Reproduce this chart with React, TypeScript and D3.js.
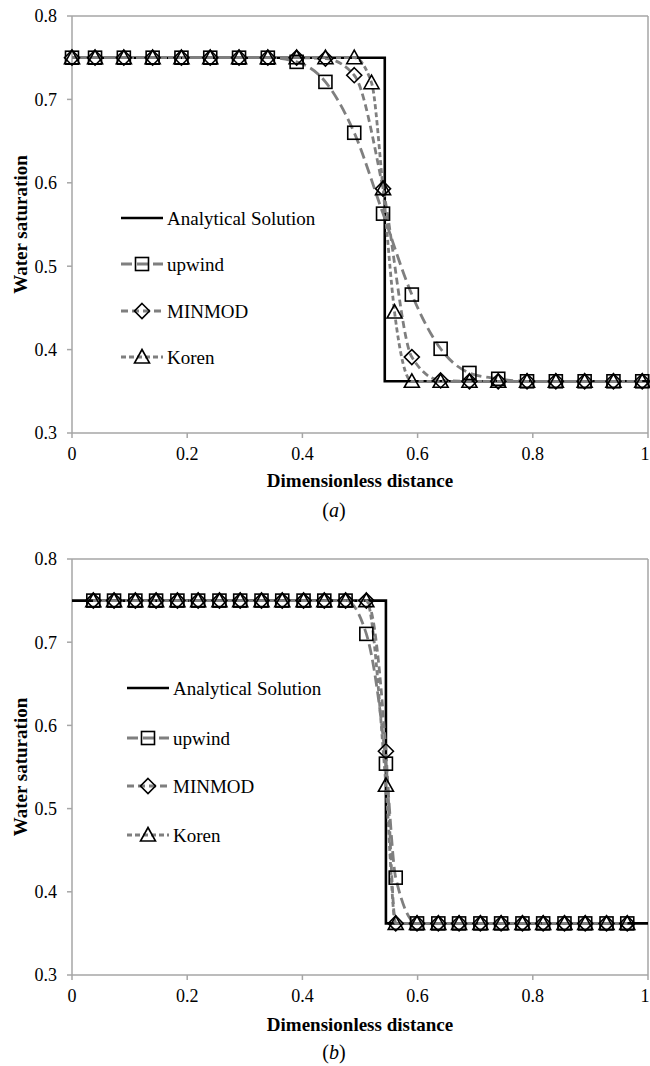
import React from "react";
import * as d3 from "d3";

// ---------- Data ----------
const xTicks = [0, 0.2, 0.4, 0.6, 0.8, 1];
const yTicks = [0.3, 0.4, 0.5, 0.6, 0.7, 0.8];

// Panel (a)
const xA = [0, 0.04, 0.09, 0.14, 0.19, 0.24, 0.29, 0.34, 0.39, 0.44, 0.49, 0.54, 0.59, 0.64, 0.69, 0.74, 0.79, 0.84, 0.89, 0.94, 0.99];
const upwindA = [0.75, 0.75, 0.75, 0.75, 0.75, 0.75, 0.75, 0.75, 0.745, 0.721, 0.66, 0.563, 0.466, 0.401, 0.372, 0.365, 0.362, 0.362, 0.362, 0.362, 0.362];
const minmodA = [0.75, 0.75, 0.75, 0.75, 0.75, 0.75, 0.75, 0.75, 0.75, 0.749, 0.729, 0.593, 0.391, 0.363, 0.362, 0.362, 0.362, 0.362, 0.362, 0.362, 0.362];
const korenXA = [0, 0.04, 0.09, 0.14, 0.19, 0.24, 0.29, 0.34, 0.39, 0.44, 0.49, 0.52, 0.54, 0.56, 0.59, 0.64, 0.69, 0.74, 0.79, 0.84, 0.89, 0.94, 0.99];
const korenA = [0.75, 0.75, 0.75, 0.75, 0.75, 0.75, 0.75, 0.75, 0.75, 0.75, 0.75, 0.72, 0.593, 0.445, 0.362, 0.362, 0.362, 0.362, 0.362, 0.362, 0.362, 0.362, 0.362];
const analyticXA = [0, 0.543, 0.543, 1];
const analyticA = [0.75, 0.75, 0.362, 0.362];

// Panel (b)
const xB = [0.037, 0.073, 0.11, 0.146, 0.183, 0.219, 0.256, 0.292, 0.329, 0.365, 0.402, 0.438, 0.475, 0.511, 0.545, 0.562, 0.599, 0.636, 0.672, 0.709, 0.745, 0.782, 0.818, 0.855, 0.891, 0.928, 0.964];
const upwindB = [0.75, 0.75, 0.75, 0.75, 0.75, 0.75, 0.75, 0.75, 0.75, 0.75, 0.75, 0.75, 0.75, 0.71, 0.554, 0.417, 0.362, 0.362, 0.362, 0.362, 0.362, 0.362, 0.362, 0.362, 0.362, 0.362, 0.362];
const minmodB = [0.75, 0.75, 0.75, 0.75, 0.75, 0.75, 0.75, 0.75, 0.75, 0.75, 0.75, 0.75, 0.75, 0.75, 0.569, 0.362, 0.362, 0.362, 0.362, 0.362, 0.362, 0.362, 0.362, 0.362, 0.362, 0.362, 0.362];
const korenB = [0.75, 0.75, 0.75, 0.75, 0.75, 0.75, 0.75, 0.75, 0.75, 0.75, 0.75, 0.75, 0.75, 0.75, 0.528, 0.362, 0.362, 0.362, 0.362, 0.362, 0.362, 0.362, 0.362, 0.362, 0.362, 0.362, 0.362];
const analyticXB = [0, 0.545, 0.545, 1];
const analyticB = [0.75, 0.75, 0.362, 0.362];

const legendLabels = ["Analytical Solution", "upwind", "MINMOD", "Koren"];

// ---------- Styles ----------
const SERIF = '"Liberation Serif", "Times New Roman", Times, serif';
const AXIS = "#a6a6a6";
const GRAY = "#7f7f7f";
const dashes = { upwind: "11 5", minmod: "7 4", koren: "5 3" };

type Mk = "square" | "diamond" | "triangle";

function Marker({ kind, x, y }: { kind: Mk; x: number; y: number }) {
  const common = { fill: "none", stroke: "#000", strokeWidth: 1.6 };
  if (kind === "square") return <rect x={x - 6.5} y={y - 6.5} width={13} height={13} {...common} />;
  if (kind === "diamond")
    return <path d={`M${x},${y - 7.5}L${x + 7.5},${y}L${x},${y + 7.5}L${x - 7.5},${y}Z`} {...common} />;
  return <path d={`M${x},${y - 7.5}L${x + 7.5},${y + 6}L${x - 7.5},${y + 6}Z`} {...common} />;
}

interface PanelProps {
  top: number;
  bottom: number;
  caption: string;
  captionY: number;
  titleY: number;
  legendX: number;
  legendTextX: number;
  legendYs: number[];
  analyticX: number[];
  analytic: number[];
  series: { x: number[]; y: number[]; dash: string; mk: Mk }[];
}

const txt = (size: number, extra: React.CSSProperties = {}): React.CSSProperties => ({
  fontFamily: SERIF,
  fontSize: size,
  ...extra,
});

function Panel(p: PanelProps) {
  const left = 72;
  const right = 648;
  const x = d3.scaleLinear().domain([0, 1]).range([left, right]);
  const y = d3.scaleLinear().domain([0.3, 0.8]).range([p.bottom, p.top]);
  const smooth = d3
    .line<[number, number]>()
    .x((d) => x(d[0]))
    .y((d) => y(d[1]))
    .curve(d3.curveMonotoneX);
  const straight = d3
    .line<[number, number]>()
    .x((d) => x(d[0]))
    .y((d) => y(d[1]));
  const analyticPts = p.analyticX.map((v, i) => [v, p.analytic[i]] as [number, number]);
  const legendMks: (Mk | null)[] = [null, "square", "diamond", "triangle"];
  const legendDash = ["", dashes.upwind, dashes.minmod, dashes.koren];
  return (
    <g>
      {/* frame */}
      <line x1={left} x2={right} y1={p.top} y2={p.top} stroke={AXIS} strokeWidth={1.5} />
      <line x1={right} x2={right} y1={p.top} y2={p.bottom} stroke={AXIS} strokeWidth={1.5} />
      <line x1={left} x2={left} y1={p.top} y2={p.bottom} stroke={AXIS} strokeWidth={1.5} />
      <line x1={left} x2={right} y1={p.bottom} y2={p.bottom} stroke={AXIS} strokeWidth={1.5} />
      {yTicks.map((t) => (
        <g key={"y" + t}>
          <line x1={left - 5} x2={left} y1={y(t)} y2={y(t)} stroke={AXIS} strokeWidth={1.5} />
          <text x={left - 15} y={y(t)} dy="0.35em" textAnchor="end" style={txt(18)}>
            {d3.format("")(t)}
          </text>
        </g>
      ))}
      {xTicks.map((t) => (
        <g key={"x" + t}>
          <line x1={x(t)} x2={x(t)} y1={p.bottom} y2={p.bottom + 5} stroke={AXIS} strokeWidth={1.5} />
          <text x={Math.min(x(t), 645)} y={p.bottom + 21} dy="0.35em" textAnchor="middle" style={txt(18)}>
            {d3.format("")(t)}
          </text>
        </g>
      ))}
      {/* analytical */}
      <path d={straight(analyticPts) || ""} fill="none" stroke="#000" strokeWidth={2.6} />
      {/* numerical series lines */}
      {p.series.map((s, i) => (
        <path
          key={"l" + i}
          d={smooth(s.x.map((v, j) => [v, s.y[j]] as [number, number])) || ""}
          fill="none"
          stroke={GRAY}
          strokeWidth={2.8}
          strokeDasharray={s.dash}
        />
      ))}
      {p.series.map((s, i) => (
        <g key={"m" + i}>
          {s.x.map((v, j) => (
            <Marker key={j} kind={s.mk} x={x(v)} y={y(s.y[j])} />
          ))}
        </g>
      ))}
      {/* legend */}
      {legendLabels.map((lab, i) => {
        const ly = p.legendYs[i];
        const x1 = p.legendX;
        const x2 = p.legendX + 42;
        return (
          <g key={"lg" + i}>
            <line
              x1={x1}
              x2={x2}
              y1={ly}
              y2={ly}
              stroke={i === 0 ? "#000" : GRAY}
              strokeWidth={i === 0 ? 2.6 : 2.8}
              strokeDasharray={legendDash[i] || undefined}
            />
            {legendMks[i] && <Marker kind={legendMks[i] as Mk} x={(x1 + x2) / 2} y={ly} />}
            <text x={p.legendTextX} y={ly} dy="0.35em" style={txt(19)}>
              {lab}
            </text>
          </g>
        );
      })}
      {/* titles */}
      <text
        transform={`translate(20,${(p.top + p.bottom) / 2}) rotate(-90)`}
        textAnchor="middle"
        dy="0.35em"
        style={txt(19, { fontWeight: "bold" })}
      >
        Water saturation
      </text>
      <text x={360} y={p.titleY} dy="0.35em" textAnchor="middle" style={txt(19, { fontWeight: "bold" })}>
        Dimensionless distance
      </text>
      <text x={334} y={p.captionY} dy="0.35em" textAnchor="middle" style={txt(20)}>
        (<tspan style={{ fontStyle: "italic" }}>{p.caption}</tspan>)
      </text>
    </g>
  );
}

export default function App() {
  return (
    <svg
      width={650}
      height={1066}
      style={{ position: "absolute", left: 0, top: 0, background: "#fff" }}
    >
      <rect width={650} height={1066} fill="#fff" />
      <Panel
        top={16}
        bottom={433}
        caption="a"
        captionY={510}
        titleY={480}
        legendX={121}
        legendTextX={167}
        legendYs={[218, 264, 311, 357]}
        analyticX={analyticXA}
        analytic={analyticA}
        series={[
          { x: xA, y: upwindA, dash: dashes.upwind, mk: "square" },
          { x: xA, y: minmodA, dash: dashes.minmod, mk: "diamond" },
          { x: korenXA, y: korenA, dash: dashes.koren, mk: "triangle" },
        ]}
      />
      <Panel
        top={559}
        bottom={975}
        caption="b"
        captionY={1052}
        titleY={1024}
        legendX={127}
        legendTextX={173}
        legendYs={[688, 738, 786, 835]}
        analyticX={analyticXB}
        analytic={analyticB}
        series={[
          { x: xB, y: upwindB, dash: dashes.upwind, mk: "square" },
          { x: xB, y: minmodB, dash: dashes.minmod, mk: "diamond" },
          { x: xB, y: korenB, dash: dashes.koren, mk: "triangle" },
        ]}
      />
    </svg>
  );
}
